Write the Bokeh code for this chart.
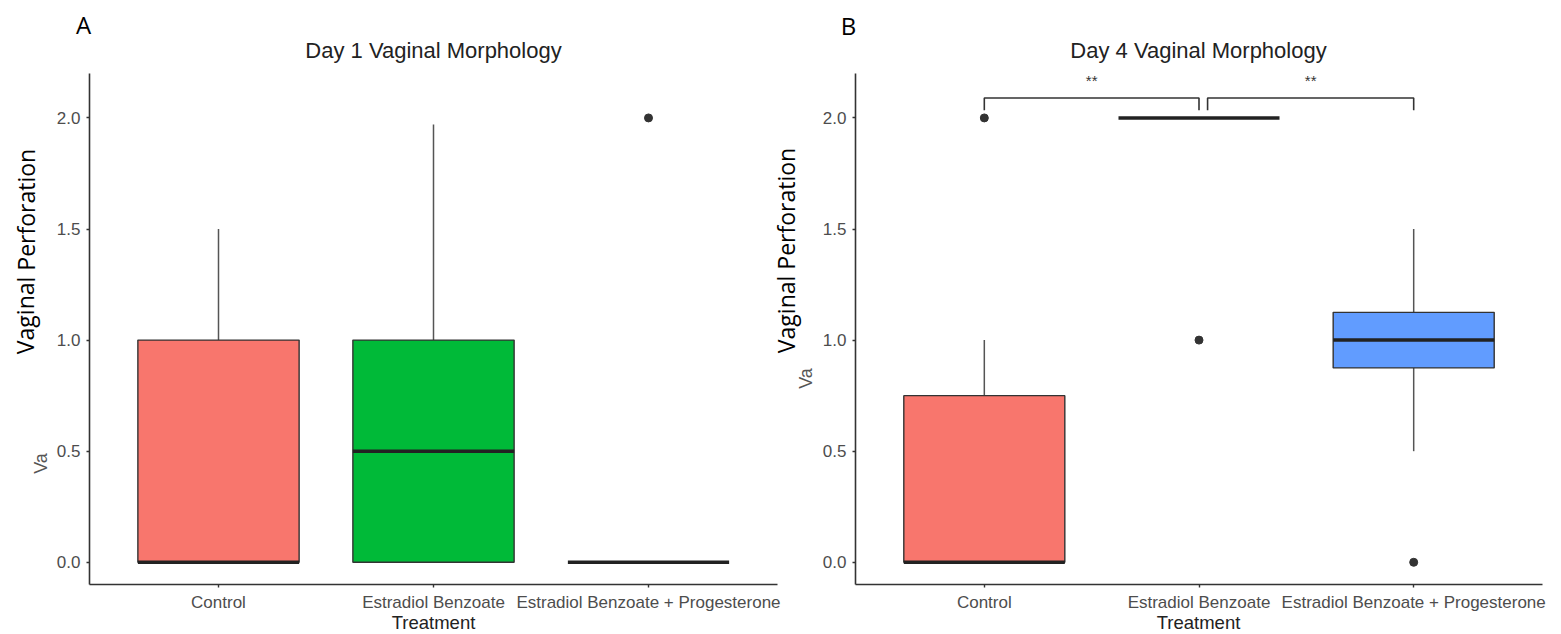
from bokeh.plotting import figure
from bokeh.models import Label, FixedTicker, Range1d
from bokeh.layouts import row
from bokeh.embed import file_html
from bokeh.resources import INLINE
from bokeh.core.properties import value

# ---------------- data ----------------
categories = ["Control", "Estradiol Benzoate", "Estradiol Benzoate + Progesterone"]
positions = [1, 2, 3]
fill_colors = ["#F8766D", "#00BA38", "#619CFF"]

day1_q1 = [0.0, 0.0, 0.0]
day1_median = [0.0, 0.5, 0.0]
day1_q3 = [1.0, 1.0, 0.0]
day1_lower = [0.0, 0.0, 0.0]
day1_upper = [1.5, 1.97, 0.0]
day1_out_x = [3]
day1_out_y = [2.0]

day4_q1 = [0.0, 2.0, 0.875]
day4_median = [0.0, 2.0, 1.0]
day4_q3 = [0.75, 2.0, 1.125]
day4_lower = [0.0, 2.0, 0.5]
day4_upper = [1.0, 2.0, 1.5]
day4_out_x = [1, 2, 3]
day4_out_y = [2.0, 1.0, 0.0]

y_ticks = [0.0, 0.5, 1.0, 1.5, 2.0]
y_tick_labels = ["0.0", "0.5", "1.0", "1.5", "2.0"]

# significance brackets (day 4)
sig_x0 = [1.0, 2.04]
sig_x1 = [2.0, 3.0]
sig_top = [2.09, 2.09]
sig_end = [2.035, 2.035]
sig_text = ["**", "**"]
sig_text_y = [2.17, 2.17]

# ---------------- layout constants (pixels) ----------------
H = 634
FRAME_TOP = 73          # top of the plotting panel
FRAME_BOT = 584         # bottom of the plotting panel (x axis line)
Y0, Y1 = -0.1, 2.2      # panel y limits
X0, X1 = 0.4, 3.6       # panel x limits
BOX_W = 0.75

WA = 817                 # canvas widths
WB = 1561 - WA
A_LEFT, A_RIGHT = 89, 777
B_LEFT, B_RIGHT = 855, 1542


def make_fig(width, offset, left, right):
    # the frame fills the whole canvas; axes are pinned to the panel limits
    xppu = (right - left) / (X1 - X0)
    yppu = (FRAME_BOT - FRAME_TOP) / (Y1 - Y0)
    xs = X0 - (left - offset) / xppu
    xe = X0 + (offset + width - left) / xppu
    ys = Y0 - (H - FRAME_BOT) / yppu
    ye = Y1 + FRAME_TOP / yppu
    p = figure(width=width, height=H, output_backend="svg", toolbar_location=None,
               x_range=Range1d(xs, xe), y_range=Range1d(ys, ye),
               min_border=0, min_border_left=0, min_border_right=0,
               min_border_top=0, min_border_bottom=0)
    p.outline_line_color = None
    p.xgrid.visible = False
    p.ygrid.visible = False
    p.background_fill_color = "white"
    p.border_fill_color = "white"
    for ax in (p.xaxis[0], p.yaxis[0]):
        ax.axis_line_color = "#333333"
        ax.axis_line_width = 1.6
        ax.major_tick_line_color = "#333333"
        ax.major_tick_line_width = 1.4
        ax.major_tick_out = 3
        ax.major_tick_in = 0
        ax.minor_tick_line_color = None
        ax.major_label_text_font = "Liberation Sans"
        ax.major_label_text_font_size = "17px"
        ax.major_label_text_color = "#4D4D4D"
    p.xaxis.ticker = FixedTicker(ticks=positions)
    p.xaxis.major_label_overrides = {pos: c for pos, c in zip(positions, categories)}
    p.xaxis.major_label_standoff = 5
    p.xaxis.fixed_location = Y0
    p.xaxis.bounds = (X0, X1)
    p.yaxis.ticker = FixedTicker(ticks=y_ticks)
    p.yaxis.major_label_overrides = {t: s for t, s in zip(y_ticks, y_tick_labels)}
    p.yaxis.major_label_standoff = 6
    p.yaxis.fixed_location = X0
    p.yaxis.bounds = (Y0, Y1)

    def to_x(px):
        return X0 + (px - left) / xppu

    def to_y(py):
        return Y1 - (py - FRAME_TOP) / yppu

    return p, to_x, to_y


def draw_boxes(p, q1, med, q3, lo, hi, out_x, out_y):
    p.segment(x0=positions, y0=q3, x1=positions, y1=hi, line_color="#555555", line_width=1.5)
    p.segment(x0=positions, y0=lo, x1=positions, y1=q1, line_color="#555555", line_width=1.5)
    keep = [b > a for a, b in zip(q1, q3)]
    bx = [x for x, k in zip(positions, keep) if k]
    bb = [a for a, k in zip(q1, keep) if k]
    bt = [b for b, k in zip(q3, keep) if k]
    bc = [c for c, k in zip(fill_colors, keep) if k]
    p.vbar(x=bx, width=BOX_W, bottom=bb, top=bt, fill_color=bc,
           line_color="#333333", line_width=1.4)
    p.segment(x0=[x - BOX_W / 2 for x in positions], y0=med,
              x1=[x + BOX_W / 2 for x in positions], y1=med,
              line_color="#222222", line_width=3.5)
    p.scatter(x=out_x, y=out_y, size=8, color="#333333")


def add_label(p, x, y, text, font, size, color, angle=0.0):
    p.add_layout(Label(x=x, y=y, text=text, text_font=font, text_font_size=size,
                       text_color=color, text_align="center", text_baseline="middle",
                       angle=angle))


ROT = 1.5707963

# ---------------- panel A ----------------
pa, xa, ya = make_fig(WA, 0, A_LEFT, A_RIGHT)
draw_boxes(pa, day1_q1, day1_median, day1_q3, day1_lower, day1_upper, day1_out_x, day1_out_y)
add_label(pa, xa(83), ya(24), "A", "Open Sans", "24px", "#000000")
add_label(pa, xa(433), ya(50), "Day 1 Vaginal Morphology", "Liberation Sans", "22px", "#222222")
add_label(pa, xa(25), ya(251), "Vaginal Perforation", "Open Sans", "23px", "#000000", ROT)
add_label(pa, xa(40), ya(463), "Va", "Liberation Sans", "18px", "#555555", ROT)
add_label(pa, xa(433), ya(622), "Treatment", "Liberation Sans", "18.5px", "#222222")
# panel B's left-side labels fall on this canvas
add_label(pa, xa(785), ya(250), "Vaginal Perforation", "Open Sans", "23px", "#000000", ROT)
add_label(pa, xa(805), ya(378), "Va", "Liberation Sans", "18px", "#555555", ROT)

# ---------------- panel B ----------------
pb, xb, yb = make_fig(WB, WA, B_LEFT, B_RIGHT)
draw_boxes(pb, day4_q1, day4_median, day4_q3, day4_lower, day4_upper, day4_out_x, day4_out_y)

br_xs, br_ys = [], []
for a, b, t, e in zip(sig_x0, sig_x1, sig_top, sig_end):
    br_xs.append([a, a, b, b])
    br_ys.append([e, t, t, e])
pb.multi_line(xs=br_xs, ys=br_ys, line_color="#333333", line_width=1.6)
pb.text(x=[(a + b) / 2 for a, b in zip(sig_x0, sig_x1)], y=sig_text_y, text=sig_text,
        text_font=value("Liberation Sans"), text_font_size="15px", text_color="#333333",
        text_align="center", text_baseline="middle")

add_label(pb, xb(848), yb(25), "B", "Open Sans", "24px", "#000000")
add_label(pb, xb(1198), yb(50), "Day 4 Vaginal Morphology", "Liberation Sans", "22px", "#222222")
add_label(pb, xb(1198), yb(622), "Treatment", "Liberation Sans", "18.5px", "#222222")

layout = row(pa, pb)
open("out.html", "w").write(file_html(layout, INLINE))
